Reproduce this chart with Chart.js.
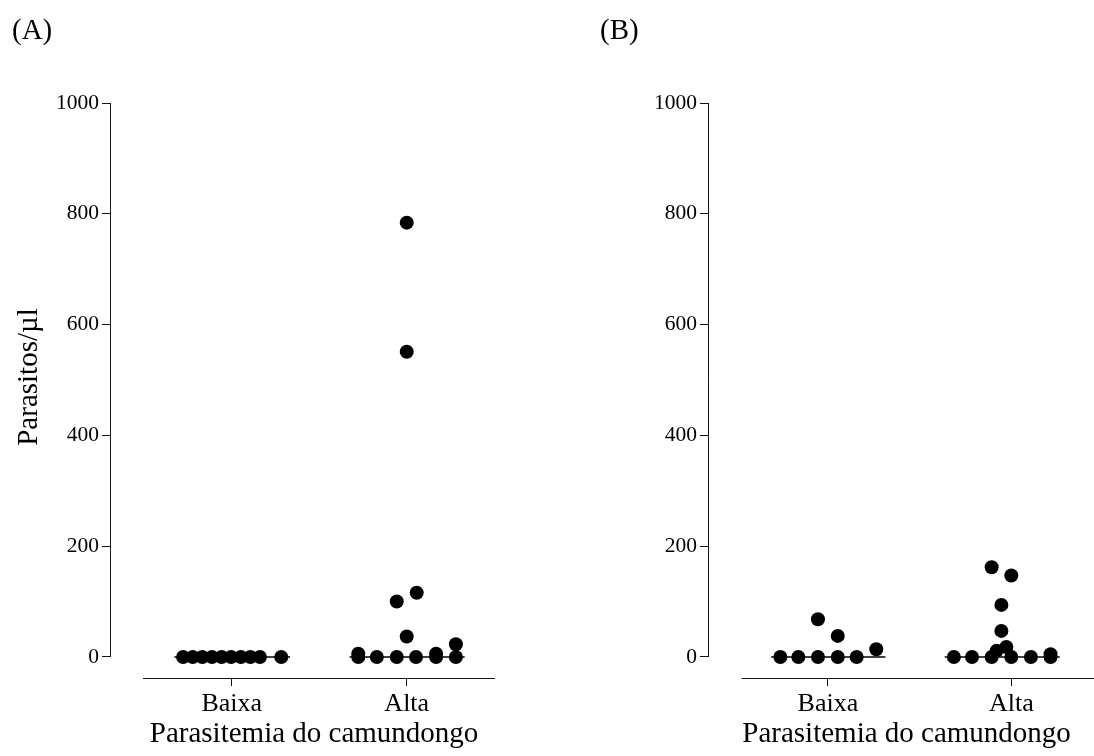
<!DOCTYPE html>
<html>
<head>
<meta charset="utf-8">
<script src="https://cdn.jsdelivr.net/npm/chart.js@4.4.0/dist/chart.umd.min.js"></script>
<style>
  html, body { margin: 0; padding: 0; background: #fff; overflow: hidden; width: 1094px; height: 756px; }
  canvas { position: absolute; top: 0; }
  #chartA { left: 0; }
  #chartB { left: 547px; }
</style>
</head>
<body>
<canvas id="chartA" width="547" height="756"></canvas>
<canvas id="chartB" width="563" height="756"></canvas>
<script>
// Dados
const categories = ['Baixa', 'Alta'];
const yTicks = [0, 200, 400, 600, 800, 1000];

// Painel A
const aBaixaValues  = [0, 0, 0, 0, 0, 0, 0, 0, 0, 0];
const aBaixaOffsets = [-0.278, -0.223, -0.168, -0.113, -0.058, -0.003, 0.052, 0.107, 0.161, 0.283];
const aAltaValues   = [0, 6, 0, 0, 0, 0, 6, 0, 23, 37, 100, 116, 551, 784];
const aAltaOffsets  = [-0.277, -0.277, -0.171, -0.057, 0.053, 0.168, 0.168, 0.281, 0.281, 0, -0.057, 0.057, 0, 0];
const aMedians      = [0, 0];

// Painel B
const bBaixaValues  = [0, 0, 0, 0, 0, 68, 38, 14];
const bBaixaOffsets = [-0.259, -0.161, -0.054, 0.054, 0.157, -0.054, 0.054, 0.264];
const bAltaValues   = [0, 0, 0, 0, 0, 0, 11, 18, 5, 47, 94, 162, 147];
const bAltaOffsets  = [-0.313, -0.214, -0.107, 0, 0.107, 0.214, -0.080, -0.027, 0.214, -0.054, -0.054, -0.107, 0];
const bMedians      = [0, 0];

const FONT = '"Liberation Serif", "Times New Roman", serif';
Chart.defaults.font.family = FONT;
Chart.defaults.color = '#000';

// pontos + linha da mediana de um grupo
function groupDatasets(values, offsets, center, median) {
  const pts = values.map((v, i) => ({ x: center + offsets[i], y: v }));
  const xs = pts.map(p => p.x);
  return [
    {
      type: 'line',
      data: [{ x: Math.min(...xs) - 0.05, y: median }, { x: Math.max(...xs) + 0.05, y: median }],
      borderColor: '#000',
      borderWidth: 1.5,
      pointRadius: 0,
      order: 2
    },
    {
      type: 'scatter',
      data: pts,
      backgroundColor: '#000',
      borderWidth: 0,
      pointRadius: 7,
      order: 1
    }
  ];
}

// eixos "soltos" e textos
const framePlugin = {
  id: 'frame',
  beforeDatasetsDraw(chart, args, opts) {
    const { ctx, chartArea, scales: { x, y } } = chart;
    ctx.save();
    ctx.strokeStyle = '#111';
    ctx.lineWidth = 1;
    ctx.beginPath();
    const lx = Math.round(chartArea.left) - 0.5;
    ctx.moveTo(lx, y.getPixelForValue(0));
    ctx.lineTo(lx, y.getPixelForValue(1000));
    const by = Math.round(chartArea.bottom) + 0.5;
    ctx.moveTo(x.getPixelForValue(opts.axisFrom), by);
    ctx.lineTo(x.getPixelForValue(opts.axisTo), by);
    ctx.stroke();
    ctx.restore();
  },
  afterDraw(chart, args, opts) {
    const { ctx, scales: { x } } = chart;
    ctx.save();
    ctx.fillStyle = '#000';
    ctx.font = '29px ' + FONT;
    ctx.textBaseline = 'alphabetic';
    ctx.textAlign = 'left';
    ctx.fillText(opts.panel, opts.panelX, 39);
    ctx.textAlign = 'center';
    const cx = (x.getPixelForValue(opts.axisFrom) + x.getPixelForValue(opts.axisTo)) / 2 + opts.titleShift;
    ctx.fillText('Parasitemia do camundongo', cx, 742);
    if (opts.yTitle) {
      ctx.translate(29, 377);
      ctx.rotate(-Math.PI / 2);
      ctx.textBaseline = 'middle';
      ctx.fillText(opts.yTitle, 0, 0);
    }
    ctx.restore();
  }
};

function makeConfig(datasets, p) {
  return {
    type: 'scatter',
    data: { datasets: datasets },
    plugins: [framePlugin],
    options: {
      responsive: false,
      animation: false,
      events: [],
      layout: { padding: { top: 103, right: p.padRight, left: 0, bottom: 0 } },
      plugins: {
        legend: { display: false },
        tooltip: { enabled: false },
        frame: p.frame
      },
      scales: {
        x: {
          type: 'linear',
          min: p.xMin,
          max: p.xMax,
          afterFit: s => { s.height = 78; },
          afterBuildTicks: s => { s.ticks = categories.map((c, i) => ({ value: i + 1 })); },
          border: { display: false },
          grid: { drawOnChartArea: false, drawTicks: true, tickLength: 8, color: '#111', lineWidth: 1 },
          ticks: {
            font: { size: 26 },
            padding: 3,
            maxRotation: 0,
            callback: v => categories[v - 1]
          }
        },
        y: {
          type: 'linear',
          min: -38,
          max: 1000,
          afterFit: s => { s.width = p.yWidth; },
          afterBuildTicks: s => { s.ticks = yTicks.map(v => ({ value: v })); },
          border: { display: false },
          grid: { drawOnChartArea: false, drawTicks: true, tickLength: 9, color: '#111', lineWidth: 1 },
          ticks: { font: { size: 21.5 }, padding: 3, callback: v => String(v) }
        }
      }
    }
  };
}

const chartA = new Chart(
  document.getElementById('chartA'),
  makeConfig(
    [...groupDatasets(aBaixaValues, aBaixaOffsets, 1, aMedians[0]),
     ...groupDatasets(aAltaValues, aAltaOffsets, 2, aMedians[1])],
    {
      xMin: 0.31, xMax: 2.533, padRight: 47, yWidth: 111,
      frame: { axisFrom: 0.493, axisTo: 2.505, panel: '(A)', panelX: 12, titleShift: -5, yTitle: 'Parasitos/\u00b5l' }
    }
  )
);

const chartB = new Chart(
  document.getElementById('chartB'),
  makeConfig(
    [...groupDatasets(bBaixaValues, bBaixaOffsets, 1, bMedians[0]),
     ...groupDatasets(bAltaValues, bAltaOffsets, 2, bMedians[1])],
    {
      xMin: 0.352, xMax: 2.5, padRight: 0, yWidth: 162,
      frame: { axisFrom: 0.53, axisTo: 2.47, panel: '(B)', panelX: 53, titleShift: -13, yTitle: null }
    }
  )
);
</script>
</body>
</html>
